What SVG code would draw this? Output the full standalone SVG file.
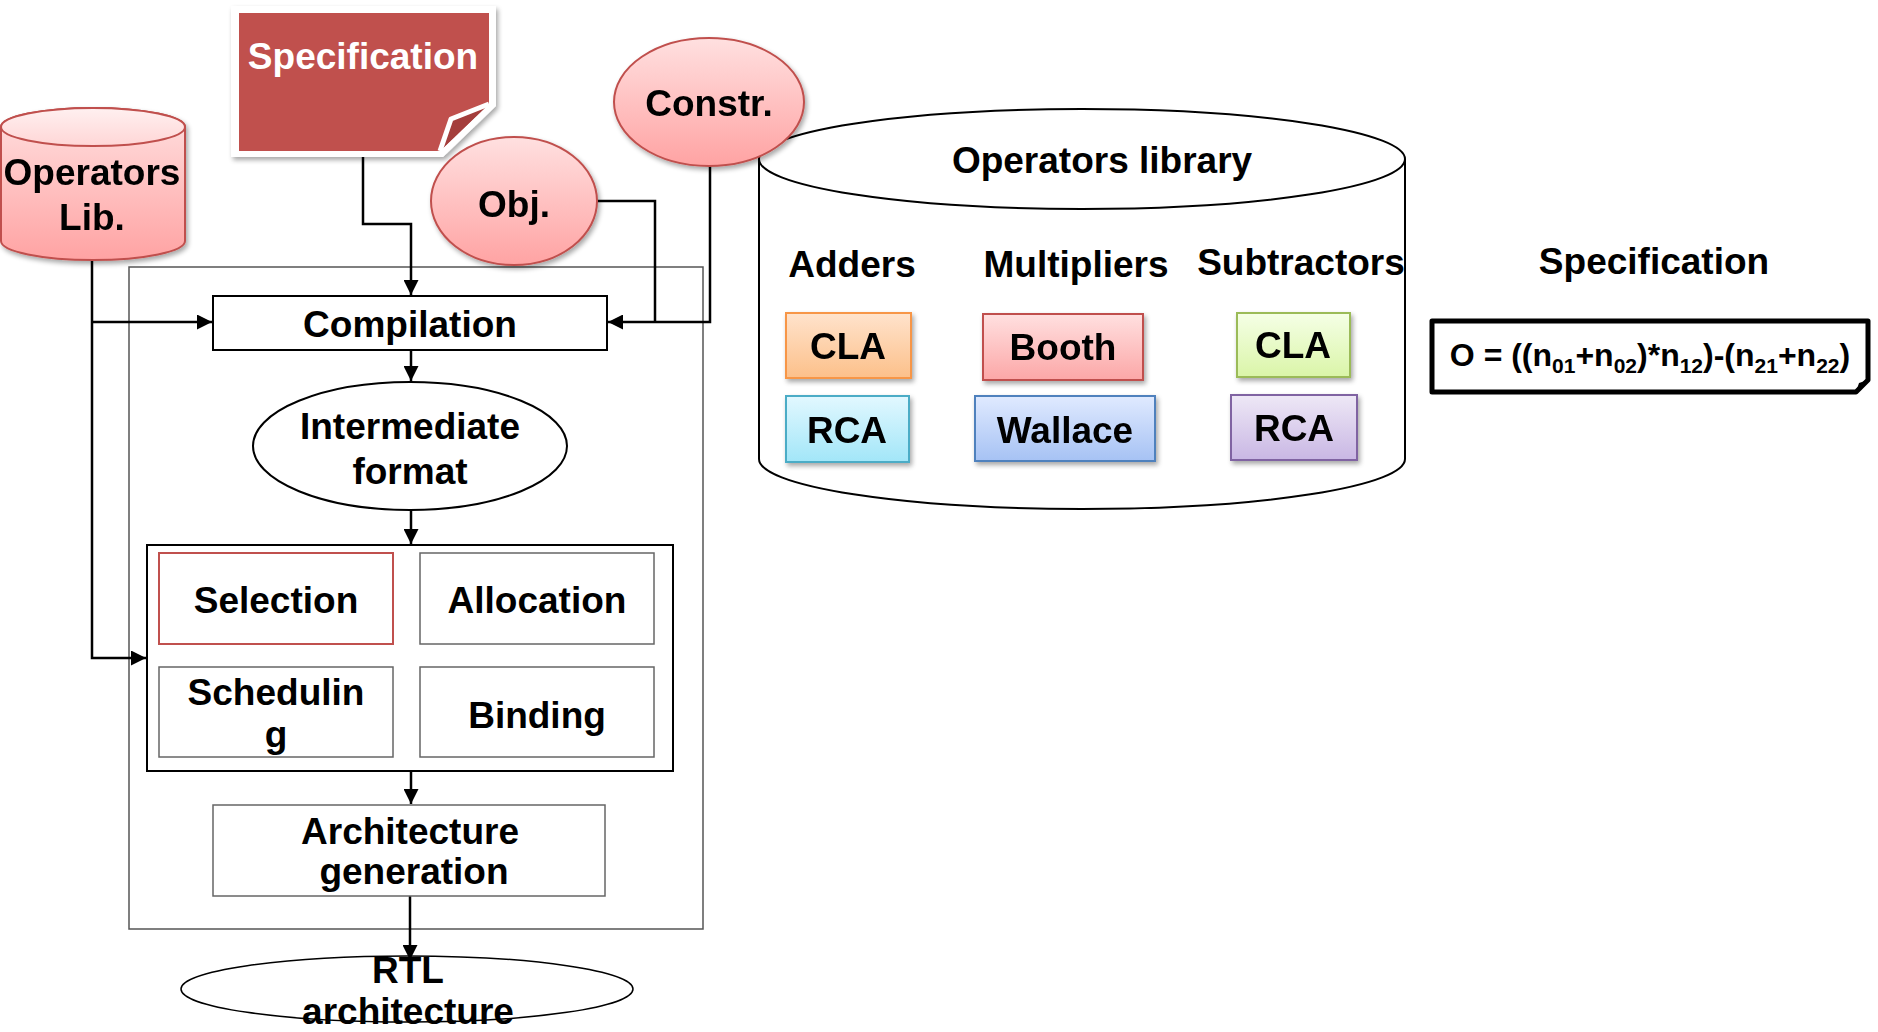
<svg xmlns="http://www.w3.org/2000/svg" width="1878" height="1032" viewBox="0 0 1878 1032">
  <style>
    text { font-family: "Liberation Sans", Arial, sans-serif; font-weight: bold; font-size: 37px; fill: #000; text-anchor: middle; }
    .wt { fill: #fff; }
    .wire { fill: none; stroke: #000; stroke-width: 2.5; }
    .box { fill: #fff; stroke: #000; stroke-width: 2; }
    .gbox { fill: #fff; stroke: #666; stroke-width: 1.5; }
    .pink { stroke: #c0504d; stroke-width: 2; }
    .formula { font-size: 32px; }
    .sub { font-size: 21px; }
  </style>
  <defs>
    <marker id="arrow" viewBox="0 0 10 10" refX="10" refY="5" markerWidth="15" markerHeight="15" markerUnits="userSpaceOnUse" orient="auto">
      <path d="M0,0 L10,5 L0,10 z" fill="#000"/>
    </marker>
    <filter id="shadow" x="-10%" y="-10%" width="130%" height="130%">
      <feGaussianBlur in="SourceAlpha" stdDeviation="2.5"/>
      <feOffset dx="2" dy="3" result="b"/>
      <feComponentTransfer><feFuncA type="linear" slope="0.35"/></feComponentTransfer>
      <feMerge><feMergeNode/><feMergeNode in="SourceGraphic"/></feMerge>
    </filter>
    <linearGradient id="gPink" x1="0" y1="0" x2="0" y2="1">
      <stop offset="0" stop-color="#ffe0e0"/><stop offset="1" stop-color="#ffa3a3"/>
    </linearGradient>
    <linearGradient id="gPinkTop" x1="0" y1="0" x2="0" y2="1">
      <stop offset="0" stop-color="#fff0f0"/><stop offset="1" stop-color="#ffd6d6"/>
    </linearGradient>
    <linearGradient id="gOrange" x1="0" y1="0" x2="0" y2="1">
      <stop offset="0" stop-color="#ffe3cc"/><stop offset="1" stop-color="#fcc08a"/>
    </linearGradient>
    <linearGradient id="gCyan" x1="0" y1="0" x2="0" y2="1">
      <stop offset="0" stop-color="#e2f8ff"/><stop offset="1" stop-color="#a2e6f8"/>
    </linearGradient>
    <linearGradient id="gRed" x1="0" y1="0" x2="0" y2="1">
      <stop offset="0" stop-color="#ffe0e0"/><stop offset="1" stop-color="#fca7a7"/>
    </linearGradient>
    <linearGradient id="gBlue" x1="0" y1="0" x2="0" y2="1">
      <stop offset="0" stop-color="#e0eaff"/><stop offset="1" stop-color="#a6c2f4"/>
    </linearGradient>
    <linearGradient id="gGreen" x1="0" y1="0" x2="0" y2="1">
      <stop offset="0" stop-color="#f5ffe6"/><stop offset="1" stop-color="#daf5a8"/>
    </linearGradient>
    <linearGradient id="gPurple" x1="0" y1="0" x2="0" y2="1">
      <stop offset="0" stop-color="#eee8f6"/><stop offset="1" stop-color="#c9b7e4"/>
    </linearGradient>
  </defs>

  <rect width="1878" height="1032" fill="#fff"/>

  <!-- process container -->
  <g id="flow-frame">
    <rect x="129" y="267" width="574" height="662" fill="none" stroke="#555" stroke-width="1.5"/>
  </g>

  <!-- connectors -->
  <g id="connectors">
    <path class="wire" d="M363,152 V224 H411 V295" marker-end="url(#arrow)"/>
    <path class="wire" d="M597,201 H655 V322"/>
    <path class="wire" d="M710,166 V322 H608" marker-end="url(#arrow)"/>
    <path class="wire" d="M92,260 V658 H146" marker-end="url(#arrow)"/>
    <path class="wire" d="M92,322 H212" marker-end="url(#arrow)"/>
    <path class="wire" d="M411,350 V381" marker-end="url(#arrow)"/>
    <path class="wire" d="M411,510 V544" marker-end="url(#arrow)"/>
    <path class="wire" d="M411,771 V804" marker-end="url(#arrow)"/>
    <path class="wire" d="M410,896 V960" marker-end="url(#arrow)"/>
  </g>

  <!-- operators library source (cylinder) -->
  <g id="operators-lib" filter="url(#shadow)">
    <path class="pink" fill="url(#gPink)" d="M1,127 V241 A92,19 0 0 0 185,241 V127 A92,19 0 0 0 1,127 Z"/>
    <ellipse class="pink" fill="url(#gPinkTop)" cx="93" cy="127" rx="92" ry="19"/>
    <text x="92" y="185">Operators</text>
    <text x="92" y="230">Lib.</text>
  </g>

  <!-- specification note -->
  <g id="specification-note">
    <path d="M231,6 H496 V106 L443,157 H231 Z" fill="#fff" filter="url(#shadow)"/>
    <path d="M239,13 H489 V104 L440,151 H239 Z" fill="#c0504d"/>
    <path d="M440,151 L451,119 L489,104" fill="#a43e3c" stroke="#fff" stroke-width="5" stroke-linejoin="round"/>
    <text class="wt" x="363" y="69">Specification</text>
  </g>

  <!-- objectives -->
  <g id="obj" filter="url(#shadow)">
    <ellipse class="pink" fill="url(#gPink)" cx="514" cy="201" rx="83" ry="64"/>
    <text x="514" y="217">Obj.</text>
  </g>

  <!-- operators library (detailed) -->
  <g id="operators-library">
    <path d="M759,159 V459 A323,50 0 0 0 1405,459 V159" fill="#fff" stroke="#000" stroke-width="2"/>
    <ellipse cx="1082" cy="159" rx="323" ry="50" fill="#fff" stroke="#000" stroke-width="2"/>
    <text x="1102" y="173">Operators library</text>
    <text x="852" y="277">Adders</text>
    <text x="1076" y="277">Multipliers</text>
    <text x="1301" y="275">Subtractors</text>
  </g>

  <!-- constraints -->
  <g id="constr" filter="url(#shadow)">
    <ellipse class="pink" fill="url(#gPink)" cx="709" cy="102" rx="95" ry="64"/>
    <text x="709" y="116">Constr.</text>
  </g>

  <!-- operator variants -->
  <g id="adder-cla" filter="url(#shadow)">
    <rect x="786" y="313" width="125" height="65" fill="url(#gOrange)" stroke="#f79646" stroke-width="2"/>
    <text x="848" y="359">CLA</text>
  </g>
  <g id="adder-rca" filter="url(#shadow)">
    <rect x="786" y="396" width="123" height="66" fill="url(#gCyan)" stroke="#4bacc6" stroke-width="2"/>
    <text x="847" y="443">RCA</text>
  </g>
  <g id="mult-booth" filter="url(#shadow)">
    <rect x="983" y="314" width="160" height="66" fill="url(#gRed)" stroke="#c0504d" stroke-width="2"/>
    <text x="1063" y="360">Booth</text>
  </g>
  <g id="mult-wallace" filter="url(#shadow)">
    <rect x="975" y="396" width="180" height="65" fill="url(#gBlue)" stroke="#4f81bd" stroke-width="2"/>
    <text x="1065" y="443">Wallace</text>
  </g>
  <g id="sub-cla" filter="url(#shadow)">
    <rect x="1237" y="313" width="113" height="64" fill="url(#gGreen)" stroke="#9bbb59" stroke-width="2"/>
    <text x="1293" y="358">CLA</text>
  </g>
  <g id="sub-rca" filter="url(#shadow)">
    <rect x="1231" y="395" width="126" height="65" fill="url(#gPurple)" stroke="#8064a2" stroke-width="2"/>
    <text x="1294" y="441">RCA</text>
  </g>

  <!-- specification example -->
  <g id="spec-example">
    <text x="1654" y="274">Specification</text>
    <path d="M1432,321 H1868 V380 L1856,392 H1432 Z" fill="#fff" stroke="#000" stroke-width="5" stroke-linejoin="round"/>
    <path d="M1856,392 L1859,383 L1868,380 Z" fill="#000"/>
    <text class="formula" x="1650" y="366">O = ((n<tspan class="sub" dy="7">01</tspan><tspan dy="-7">+n</tspan><tspan class="sub" dy="7">02</tspan><tspan dy="-7">)*n</tspan><tspan class="sub" dy="7">12</tspan><tspan dy="-7">)-(n</tspan><tspan class="sub" dy="7">21</tspan><tspan dy="-7">+n</tspan><tspan class="sub" dy="7">22</tspan><tspan dy="-7">)</tspan></text>
  </g>

  <!-- flow steps -->
  <g id="compilation">
    <rect class="box" x="213" y="296" width="394" height="54"/>
    <text x="410" y="337">Compilation</text>
  </g>
  <g id="intermediate-format">
    <ellipse cx="410" cy="446" rx="157" ry="64" fill="#fff" stroke="#000" stroke-width="2"/>
    <text x="410" y="439">Intermediate</text>
    <text x="410" y="484">format</text>
  </g>
  <g id="synthesis-steps">
    <rect class="box" x="147" y="545" width="526" height="226"/>
  </g>
  <g id="selection">
    <rect x="159" y="553" width="234" height="91" fill="#fff" stroke="#c0504d" stroke-width="2"/>
    <text x="276" y="613">Selection</text>
  </g>
  <g id="allocation">
    <rect class="gbox" x="420" y="553" width="234" height="91"/>
    <text x="537" y="613">Allocation</text>
  </g>
  <g id="scheduling">
    <rect class="gbox" x="159" y="667" width="234" height="90"/>
    <text x="276" y="705">Schedulin</text>
    <text x="276" y="747">g</text>
  </g>
  <g id="binding">
    <rect class="gbox" x="420" y="667" width="234" height="90"/>
    <text x="537" y="728">Binding</text>
  </g>
  <g id="architecture-generation">
    <rect class="gbox" x="213" y="805" width="392" height="91"/>
    <text x="410" y="844">Architecture</text>
    <text x="414" y="884">generation</text>
  </g>
  <g id="rtl-architecture">
    <ellipse cx="407" cy="989" rx="226" ry="33" fill="none" stroke="#000" stroke-width="1.5"/>
    <text x="408" y="983">RTL</text>
    <text x="408" y="1024">architecture</text>
  </g>
</svg>
